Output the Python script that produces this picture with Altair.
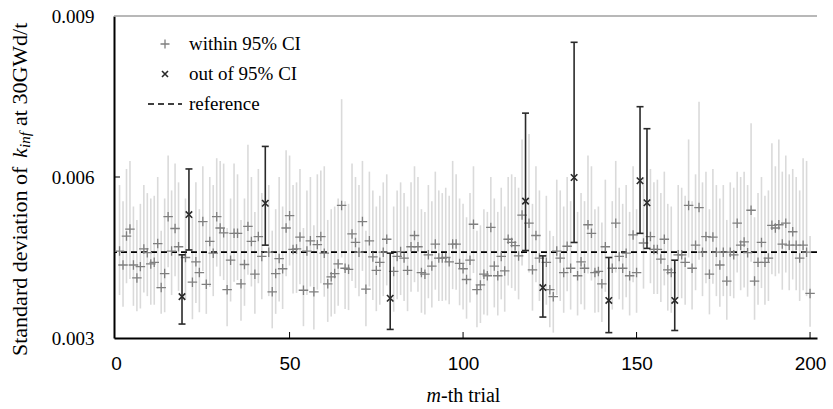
import altair as alt
import pandas as pd

# ---------------- data ----------------
trials = list(range(1, 201))

std_dev = [
    0.00462, 0.00436, 0.00490, 0.00503, 0.00436, 0.00412, 0.00433, 0.00466, 0.00459, 0.00438,
    0.00441, 0.00476, 0.00394, 0.00420, 0.00526, 0.00462, 0.00504, 0.00470, 0.00377, 0.00450,
    0.00530, 0.00404, 0.00442, 0.00422, 0.00517, 0.00400, 0.00480, 0.00458, 0.00526, 0.00505,
    0.00496, 0.00390, 0.00445, 0.00495, 0.00495, 0.00401, 0.00437, 0.00508, 0.00480, 0.00419,
    0.00489, 0.00452, 0.00551, 0.00460, 0.00386, 0.00420, 0.00448, 0.00429, 0.00505, 0.00528,
    0.00465, 0.00466, 0.00488, 0.00389, 0.00462, 0.00481, 0.00386, 0.00474, 0.00489, 0.00458,
    0.00401, 0.00414, 0.00420, 0.00438, 0.00547, 0.00430, 0.00428, 0.00494, 0.00478, 0.00460,
    0.00517, 0.00391, 0.00481, 0.00451, 0.00426, 0.00441, 0.00460, 0.00484, 0.00374, 0.00424,
    0.00452, 0.00461, 0.00449, 0.00426, 0.00470, 0.00491, 0.00470, 0.00422, 0.00419, 0.00455,
    0.00434, 0.00475, 0.00449, 0.00449, 0.00450, 0.00442, 0.00475, 0.00475, 0.00439, 0.00429,
    0.00409, 0.00445, 0.00512, 0.00390, 0.00399, 0.00419, 0.00416, 0.00506, 0.00434, 0.00416,
    0.00452, 0.00425, 0.00484, 0.00478, 0.00472, 0.00453, 0.00529, 0.00555, 0.00514, 0.00427,
    0.00491, 0.00449, 0.00394, 0.00441, 0.00390, 0.00377, 0.00462, 0.00449, 0.00422, 0.00471,
    0.00430, 0.00599, 0.00416, 0.00442, 0.00430, 0.00511, 0.00495, 0.00422, 0.00424, 0.00401,
    0.00470, 0.00370, 0.00430, 0.00514, 0.00452, 0.00430, 0.00458, 0.00416, 0.00492, 0.00422,
    0.00593, 0.00477, 0.00552, 0.00489, 0.00465, 0.00465, 0.00447, 0.00484, 0.00427, 0.00422,
    0.00370, 0.00455, 0.00455, 0.00441, 0.00547, 0.00430, 0.00473, 0.00543, 0.00460, 0.00489,
    0.00419, 0.00488, 0.00460, 0.00436, 0.00460, 0.00406, 0.00460, 0.00455, 0.00514, 0.00473,
    0.00479, 0.00459, 0.00538, 0.00406, 0.00441, 0.00478, 0.00441, 0.00449, 0.00510, 0.00505,
    0.00511, 0.00475, 0.00514, 0.00473, 0.00498, 0.00473, 0.00449, 0.00473, 0.00460, 0.00383,
]

ci_upper = [
    0.00585, 0.00555, 0.00615, 0.00630, 0.00545, 0.00520, 0.00550, 0.00585, 0.00570, 0.00560,
    0.00565, 0.00600, 0.00500, 0.00560, 0.00640, 0.00575, 0.00625, 0.00590, 0.00455, 0.00560,
    0.00615, 0.00525, 0.00590, 0.00540, 0.00620, 0.00515, 0.00600, 0.00585, 0.00635, 0.00630,
    0.00625, 0.00505, 0.00560, 0.00625, 0.00605, 0.00520, 0.00560, 0.00660, 0.00600, 0.00535,
    0.00615, 0.00570, 0.00657, 0.00585, 0.00500, 0.00540, 0.00600, 0.00545, 0.00650, 0.00640,
    0.00585, 0.00590, 0.00615, 0.00505, 0.00575, 0.00600, 0.00510, 0.00605, 0.00612, 0.00620,
    0.00520, 0.00540, 0.00545, 0.00560, 0.00745, 0.00555, 0.00550, 0.00625, 0.00600, 0.00585,
    0.00630, 0.00500, 0.00610, 0.00575, 0.00545, 0.00565, 0.00590, 0.00605, 0.00458, 0.00545,
    0.00575, 0.00590, 0.00570, 0.00545, 0.00590, 0.00620, 0.00600, 0.00540, 0.00535, 0.00585,
    0.00555, 0.00610, 0.00575, 0.00570, 0.00580, 0.00565, 0.00630, 0.00605, 0.00560, 0.00550,
    0.00525, 0.00570, 0.00620, 0.00500, 0.00510, 0.00540, 0.00535, 0.00600, 0.00560, 0.00535,
    0.00580, 0.00545, 0.00600, 0.00605, 0.00600, 0.00580, 0.00670, 0.00719, 0.00680, 0.00550,
    0.00620, 0.00575, 0.00453, 0.00565, 0.00500, 0.00490, 0.00595, 0.00575, 0.00545, 0.00600,
    0.00555, 0.00851, 0.00535, 0.00570, 0.00555, 0.00640, 0.00620, 0.00540, 0.00545, 0.00515,
    0.00595, 0.00450, 0.00555, 0.00630, 0.00580, 0.00550, 0.00585, 0.00535, 0.00620, 0.00540,
    0.00731, 0.00600, 0.00690, 0.00615, 0.00590, 0.00595, 0.00570, 0.00610, 0.00550, 0.00545,
    0.00445, 0.00585, 0.00580, 0.00565, 0.00670, 0.00555, 0.00605, 0.00740, 0.00590, 0.00610,
    0.00540, 0.00615, 0.00585, 0.00560, 0.00585, 0.00520, 0.00590, 0.00580, 0.00610, 0.00600,
    0.00610, 0.00585, 0.00700, 0.00525, 0.00570, 0.00600, 0.00565, 0.00575, 0.00663, 0.00620,
    0.00670, 0.00610, 0.00640, 0.00605, 0.00615, 0.00600, 0.00575, 0.00635, 0.00630, 0.00490,
]

ci_lower = [
    0.00380, 0.00358, 0.00402, 0.00410, 0.00360, 0.00350, 0.00355, 0.00385, 0.00378, 0.00362,
    0.00362, 0.00392, 0.00345, 0.00348, 0.00432, 0.00380, 0.00415, 0.00388, 0.00326, 0.00372,
    0.00464, 0.00335, 0.00365, 0.00348, 0.00425, 0.00345, 0.00395, 0.00378, 0.00433, 0.00415,
    0.00408, 0.00322, 0.00368, 0.00405, 0.00408, 0.00332, 0.00360, 0.00418, 0.00396, 0.00345,
    0.00402, 0.00372, 0.00473, 0.00378, 0.00318, 0.00345, 0.00368, 0.00354, 0.00415, 0.00435,
    0.00383, 0.00384, 0.00400, 0.00322, 0.00380, 0.00396, 0.00316, 0.00390, 0.00402, 0.00377,
    0.00330, 0.00340, 0.00345, 0.00360, 0.00450, 0.00354, 0.00352, 0.00406, 0.00393, 0.00378,
    0.00425, 0.00322, 0.00396, 0.00371, 0.00350, 0.00362, 0.00378, 0.00398, 0.00316, 0.00349,
    0.00372, 0.00380, 0.00369, 0.00350, 0.00386, 0.00404, 0.00386, 0.00347, 0.00344, 0.00374,
    0.00357, 0.00390, 0.00369, 0.00369, 0.00370, 0.00363, 0.00391, 0.00390, 0.00361, 0.00353,
    0.00336, 0.00366, 0.00421, 0.00320, 0.00328, 0.00344, 0.00342, 0.00416, 0.00357, 0.00342,
    0.00372, 0.00349, 0.00398, 0.00393, 0.00388, 0.00372, 0.00435, 0.00463, 0.00422, 0.00351,
    0.00404, 0.00369, 0.00339, 0.00362, 0.00320, 0.00310, 0.00380, 0.00369, 0.00347, 0.00387,
    0.00353, 0.00478, 0.00342, 0.00363, 0.00353, 0.00420, 0.00407, 0.00347, 0.00348, 0.00330,
    0.00386, 0.00310, 0.00353, 0.00422, 0.00372, 0.00353, 0.00376, 0.00342, 0.00404, 0.00347,
    0.00495, 0.00392, 0.00467, 0.00402, 0.00382, 0.00382, 0.00367, 0.00398, 0.00351, 0.00347,
    0.00314, 0.00374, 0.00374, 0.00362, 0.00450, 0.00353, 0.00389, 0.00446, 0.00378, 0.00402,
    0.00344, 0.00401, 0.00378, 0.00358, 0.00378, 0.00334, 0.00378, 0.00374, 0.00422, 0.00389,
    0.00394, 0.00377, 0.00442, 0.00334, 0.00362, 0.00393, 0.00362, 0.00369, 0.00419, 0.00415,
    0.00420, 0.00390, 0.00422, 0.00389, 0.00409, 0.00389, 0.00369, 0.00389, 0.00378, 0.00321,
]

out_of_ci_trials = [19, 21, 43, 79, 118, 123, 132, 142, 151, 153, 161]
reference_value = 0.0046

x_tick_values = [0, 50, 100, 150, 200]
y_tick_values = [0.003, 0.006, 0.009]

legend_labels = ["within 95% CI", "out of 95% CI", "reference"]
x_title_parts = ["m", "-th trial"]
y_title_parts = ["Standard deviation of", "k", "inf", "at 30GWd/t"]

# ---------------- table ----------------
df = pd.DataFrame({
    "trial": trials,
    "value": std_dev,
    "lower": ci_lower,
    "upper": ci_upper,
})
df["status"] = ["out" if t in out_of_ci_trials else "within" for t in trials]

W, H = 703, 322
L, T = 114, 16

x_scale = alt.Scale(domain=[-0.6, 202.0], nice=False, zero=False)
y_scale = alt.Scale(domain=[0.003, 0.009], nice=False, zero=False)

x_axis = alt.Axis(values=x_tick_values, title=None, grid=False, ticks=False,
                  domainColor="black", domainWidth=2, labelFont="Liberation Sans",
                  labelFontSize=19, labelColor="black", labelPadding=16, format="d")
y_axis = alt.Axis(values=y_tick_values, title=None, grid=False, ticks=False,
                  domainColor="black", domainWidth=2, labelFont="Liberation Serif",
                  labelFontSize=19, labelColor="black", labelPadding=20, format=".3f")

def X(field):
    return alt.X(field, type="quantitative", scale=x_scale, axis=x_axis)

def Y(field):
    return alt.Y(field, type="quantitative", scale=y_scale, axis=y_axis)

base = alt.Chart(df)
within = base.transform_filter("datum.status == 'within'")
out = base.transform_filter("datum.status == 'out'")

within_bars = within.mark_rule(color="#dadada", strokeWidth=1.6).encode(
    x=X("trial"), y=Y("lower"), y2="upper")

ref_df = pd.DataFrame({"ref": [reference_value]})
ref_line = alt.Chart(ref_df).mark_rule(color="black", strokeWidth=1.6, strokeDash=[6, 4]).encode(
    y=Y("ref"))

plus_path = "M-1,0L1,0M0,-1L0,1"
cross_path = "M-1,-1L1,1M-1,1L1,-1"
cap_path = "M-1,0L1,0"

within_pts = within.mark_point(shape=plus_path, filled=False, stroke="#7f7f7f",
                               strokeWidth=1.3, size=90, opacity=1).encode(
    x=X("trial"), y=Y("value"))

out_bars = out.mark_rule(color="#2a2a2a", strokeWidth=1.6).encode(
    x=X("trial"), y=Y("lower"), y2="upper")
out_cap_top = out.mark_point(shape=cap_path, filled=False, stroke="#2a2a2a",
                             strokeWidth=1.6, size=49, opacity=1).encode(
    x=X("trial"), y=Y("upper"))
out_cap_bot = out.mark_point(shape=cap_path, filled=False, stroke="#2a2a2a",
                             strokeWidth=1.6, size=49, opacity=1).encode(
    x=X("trial"), y=Y("lower"))
out_pts = out.mark_point(shape=cross_path, filled=False, stroke="#2a2a2a",
                         strokeWidth=1.6, size=42, opacity=1).encode(
    x=X("trial"), y=Y("value"))

# inner tick marks
xt_df = pd.DataFrame({"t": x_tick_values[1:]})
x_ticks = alt.Chart(xt_df).mark_rule(color="black", strokeWidth=1).encode(
    x=X("t"), y=alt.value(H), y2=alt.value(H - 6))
yt_df = pd.DataFrame({"v": [0.006]})
y_ticks = alt.Chart(yt_df).mark_rule(color="black", strokeWidth=1).encode(
    y=Y("v"), x=alt.value(0), x2=alt.value(6))

one = pd.DataFrame({"a": [0]})
top_border = alt.Chart(one).mark_rule(color="#a0a0a0", strokeWidth=1.5).encode(
    x=alt.value(0), x2=alt.value(W), y=alt.value(0))

# legend
leg_x_sym = 165 - L
leg_x_txt = 189 - L
rows_y = [44 - T, 74 - T, 104 - T]
leg_plus = alt.Chart(one).mark_point(shape=plus_path, filled=False, stroke="#7f7f7f",
                                     strokeWidth=1.3, size=81, opacity=1).encode(
    x=alt.value(leg_x_sym), y=alt.value(rows_y[0]))
leg_cross = alt.Chart(one).mark_point(shape=cross_path, filled=False, stroke="#2a2a2a",
                                      strokeWidth=1.6, size=36, opacity=1).encode(
    x=alt.value(leg_x_sym), y=alt.value(rows_y[1]))
leg_dash = alt.Chart(one).mark_rule(color="black", strokeWidth=1.6, strokeDash=[6, 4]).encode(
    x=alt.value(148 - L), x2=alt.value(182 - L), y=alt.value(rows_y[2]))

def text(label, x, y, size=19, style="normal", angle=0, align="left"):
    kw = dict(text=label, font="Liberation Serif", fontSize=size, fontStyle=style,
              align=align, baseline="middle", color="black")
    if angle:
        kw["angle"] = angle
    return alt.Chart(one).mark_text(**kw).encode(x=alt.value(x), y=alt.value(y))

leg_texts = [text(legend_labels[i], leg_x_txt, rows_y[i], size=19) for i in range(3)]

# x title: "m-th trial"
x_title = [
    text(x_title_parts[0], 441 - L, 396 - T, size=20, style="italic", align="right"),
    text(x_title_parts[1], 441 - L, 396 - T, size=20, align="left"),
]

# y title (rotated, reading upward)
yx = 20 - L
y_title = [
    text(y_title_parts[0], yx, 356 - T, size=22, angle=270),
    text(y_title_parts[1], yx, 158 - T, size=22, style="italic", angle=270),
    text(y_title_parts[2], yx + 5, 148 - T, size=15, style="italic", angle=270),
    text(y_title_parts[3], yx, 126 - T, size=22, angle=270),
]

chart = alt.layer(
    within_bars, ref_line, within_pts, out_bars, out_cap_top, out_cap_bot, out_pts,
    x_ticks, y_ticks, top_border, leg_plus, leg_cross, leg_dash,
    *leg_texts, *x_title, *y_title,
).properties(
    width=W, height=H,
    autosize=alt.AutoSizeParams(type="none"),
    padding={"left": L, "top": T, "right": 833 - L - W, "bottom": 409 - T - H},
    background="white",
).configure_view(stroke=None)

chart.save("out.html", embed_options={"renderer": "svg", "actions": False})
